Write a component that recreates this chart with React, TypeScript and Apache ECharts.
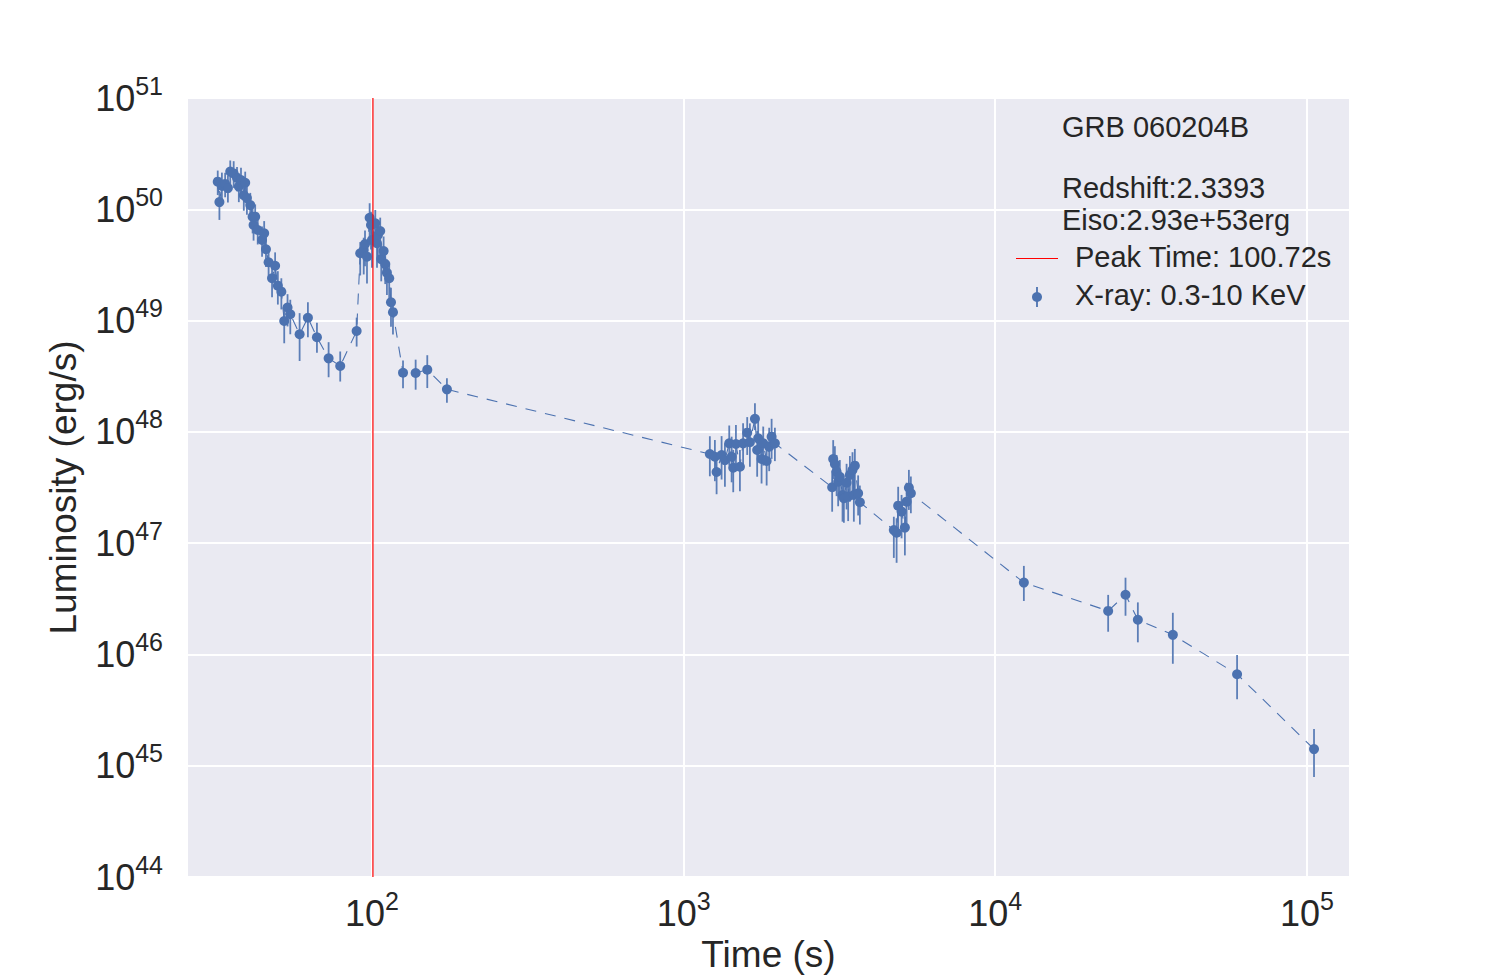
import React, { useEffect, useRef } from 'react';
import * as echarts from 'echarts';

// ---- Data ----
const times = [
  32.0, 32.4, 33.0, 33.8, 34.5, 35.1, 36.0, 36.9, 37.4, 38.0, 38.8, 39.2, 39.7, 40.7, 41.4, 41.7, 42.2, 43.0, 44.4, 45.1,
  45.7, 46.6, 47.8, 48.9, 49.9, 51.2, 52.3, 53.6, 54.7, 58.6, 62.3, 66.6, 72.6, 79.1, 89.3,
  91.7, 94.1, 95.0, 96.4, 98.3, 99.3, 100.0, 102.5, 103.8, 104.5, 106.3, 107.1, 109.0, 110.3, 111.7, 113.6, 115.1, 116.8,
  125.8, 138.1, 150.5, 174.0,
  1214, 1260, 1276, 1324, 1357, 1401, 1426, 1443, 1472, 1516, 1552, 1600, 1632, 1694, 1722, 1735, 1779, 1801, 1847, 1882, 1916, 1963,
  2997, 3020, 3058, 3097, 3133, 3172, 3236, 3268, 3334, 3373, 3416, 3483, 3518, 3544, 3631, 3678,
  4727, 4825, 4881, 5005, 5129, 5195, 5283, 5361,
  12354, 23030, 26180, 28680, 37140, 59700, 105400,
];
const lums = [
  1.77e50, 1.16e50, 1.62e50, 1.69e50, 1.55e50, 2.18e50, 2.10e50, 1.91e50, 1.60e50, 1.83e50, 1.34e50, 1.73e50, 1.26e50, 1.09e50, 8.58e49, 7.22e49, 8.58e49, 6.51e49, 5.30e49, 6.08e49,
  4.37e49, 3.34e49, 2.40e49, 3.11e49, 2.06e49, 1.82e49, 9.91e48, 1.31e49, 1.14e49, 7.53e48, 1.06e49, 7.08e48, 4.58e48, 3.91e48, 8.06e48,
  4.03e49, 4.31e49, 4.88e49, 3.75e49, 8.40e49, 7.22e49, 5.30e49, 7.48e49, 4.95e49, 5.87e49, 6.38e49, 3.57e49, 4.22e49, 3.22e49, 2.69e49, 2.40e49, 1.46e49, 1.19e49,
  3.40e48, 3.38e48, 3.62e48, 2.41e48,
  6.32e47, 5.98e47, 4.36e47, 6.19e47, 5.58e47, 7.89e47, 5.98e47, 4.76e47, 7.78e47, 4.86e47, 7.89e47, 9.83e47, 8.06e47, 1.31e48, 6.87e47, 8.75e47, 5.70e47, 7.89e47, 5.47e47, 7.36e47, 9.06e47, 7.89e47,
  3.18e47, 5.70e47, 5.14e47, 4.39e47, 3.56e47, 3.95e47, 2.71e47, 2.53e47, 3.49e47, 2.62e47, 4.10e47, 4.54e47, 2.71e47, 4.97e47, 2.81e47, 2.33e47,
  1.31e47, 1.24e47, 2.17e47, 1.92e47, 1.38e47, 2.36e47, 3.15e47, 2.81e47,
  4.42e46, 2.46e46, 3.44e46, 2.05e46, 1.50e46, 6.64e45, 1.41e45,
];
// error bar half-lengths, in dex (upper / lower)
const errUp = [
  0.10, 0.10, 0.12, 0.10, 0.11, 0.10, 0.11, 0.10, 0.12, 0.11, 0.12, 0.10, 0.12, 0.11, 0.12, 0.11, 0.11, 0.10, 0.12, 0.11,
  0.12, 0.12, 0.13, 0.12, 0.13, 0.12, 0.14, 0.12, 0.13, 0.19, 0.14, 0.13, 0.145, 0.13, 0.12,
  0.10, 0.11, 0.12, 0.11, 0.13, 0.12, 0.14, 0.12, 0.12, 0.13, 0.12, 0.14, 0.13, 0.13, 0.12, 0.14, 0.13, 0.12,
  0.11, 0.12, 0.13, 0.10,
  0.16, 0.15, 0.12, 0.17, 0.15, 0.16, 0.18, 0.16, 0.17, 0.15, 0.18, 0.14, 0.17, 0.14, 0.17, 0.16, 0.17, 0.15, 0.16, 0.17, 0.16, 0.14,
  0.15, 0.17, 0.16, 0.15, 0.16, 0.15, 0.16, 0.15, 0.17, 0.16, 0.17, 0.16, 0.18, 0.15, 0.16, 0.15,
  0.12, 0.13, 0.17, 0.15, 0.15, 0.17, 0.16, 0.15,
  0.15, 0.144, 0.153, 0.156, 0.198, 0.173, 0.18,
];
const errDn = [
  0.12, 0.16, 0.14, 0.12, 0.13, 0.12, 0.13, 0.12, 0.14, 0.13, 0.14, 0.12, 0.15, 0.13, 0.15, 0.14, 0.13, 0.13, 0.15, 0.14,
  0.16, 0.15, 0.17, 0.15, 0.17, 0.16, 0.20, 0.17, 0.18, 0.24, 0.175, 0.14, 0.17, 0.14, 0.14,
  0.20, 0.22, 0.20, 0.24, 0.18, 0.22, 0.25, 0.20, 0.22, 0.20, 0.24, 0.20, 0.20, 0.18, 0.20, 0.20, 0.22, 0.20,
  0.14, 0.15, 0.165, 0.12,
  0.20, 0.22, 0.20, 0.22, 0.24, 0.20, 0.23, 0.22, 0.20, 0.22, 0.24, 0.20, 0.22, 0.10, 0.24, 0.20, 0.22, 0.20, 0.22, 0.22, 0.20, 0.16,
  0.22, 0.18, 0.20, 0.22, 0.22, 0.20, 0.24, 0.22, 0.24, 0.22, 0.24, 0.20, 0.24, 0.22, 0.20, 0.20,
  0.25, 0.27, 0.22, 0.24, 0.25, 0.22, 0.20, 0.18,
  0.165, 0.187, 0.189, 0.203, 0.26, 0.225, 0.25,
];
const peakTime = 100.72;
const grbName = 'GRB 060204B';
const redshiftText = 'Redshift:2.3393';
const eisoText = 'Eiso:2.93e+53erg';
const peakLabel = 'Peak Time: 100.72s';
const xrayLabel = 'X-ray: 0.3-10 KeV';
const xLabel = 'Time (s)';
const yLabel = 'Luminosity (erg/s)';
const xMin = 25.5;
const xMax = 137500;
const yMin = 1e44;
const yMax = 1e51;

const FONT = '"Liberation Sans", Arial, Helvetica, sans-serif';
const BLUE = '#4c72b0';
const TXT = '#262626';

function powLabel(v: number) {
  const l = Math.log10(v);
  const e = Math.round(l);
  if (Math.abs(l - e) > 1e-6) return '';
  return `{b|10}{s|${e}}`;
}

const rich: any = {
  b: { fontSize: 36, lineHeight: 50, fontFamily: FONT, color: TXT },
  s: { fontSize: 25, lineHeight: 19, verticalAlign: 'top', fontFamily: FONT, color: TXT },
};

const legendText = (text: string, x: number, y: number) => ({
  type: 'text', x, y, z: 100,
  style: { text, fontSize: 29, fontFamily: FONT, fill: TXT, verticalAlign: 'middle' },
});

export default function App() {
  const ref = useRef<HTMLDivElement>(null);
  useEffect(() => {
    if (!ref.current) return;
    const chart = echarts.init(ref.current, undefined, { renderer: 'svg' });
    const points = times.map((t, i) => [t, lums[i]]);
    const bars = times.map((t, i) => [t, lums[i] * Math.pow(10, -errDn[i]), lums[i] * Math.pow(10, errUp[i])]);
    const option: any = {
      animation: false,
      backgroundColor: '#ffffff',
      textStyle: { fontFamily: FONT },
      grid: {
        left: 187, right: 150, top: 98, bottom: 98,
        outerBoundsMode: 'none', containLabel: false,
        show: true, backgroundColor: '#eaeaf2', borderWidth: 0,
      },
      xAxis: {
        type: 'log', logBase: 10, min: xMin, max: xMax, splitNumber: 4,
        axisLine: { show: false }, axisTick: { show: false },
        splitLine: { show: true, lineStyle: { color: '#ffffff', width: 2 } },
        axisLabel: { formatter: powLabel, rich, margin: 11, showMinLabel: false, showMaxLabel: false },
        name: xLabel, nameLocation: 'middle', nameGap: 59,
        nameTextStyle: { fontSize: 37, color: TXT, fontFamily: FONT },
      },
      yAxis: {
        type: 'log', logBase: 10, min: yMin, max: yMax, splitNumber: 7,
        axisLine: { show: false }, axisTick: { show: false },
        splitLine: { show: true, lineStyle: { color: '#ffffff', width: 2 } },
        axisLabel: { formatter: powLabel, rich, margin: 24 },
        name: yLabel, nameLocation: 'middle', nameGap: 105, nameRotate: 90,
        nameTextStyle: { fontSize: 37, color: TXT, fontFamily: FONT },
      },
      series: [
        {
          type: 'line', data: points, showSymbol: false, symbol: 'none', z: 2,
          lineStyle: { color: BLUE, width: 1.1, type: [11, 9] },
        },
        {
          type: 'custom', data: bars, z: 3,
          encode: { x: 0, y: [1, 2] },
          renderItem: (_p: any, api: any) => {
            const a = api.coord([api.value(0), api.value(1)]);
            const b = api.coord([api.value(0), api.value(2)]);
            return {
              type: 'line',
              shape: { x1: a[0], y1: a[1], x2: b[0], y2: b[1] },
              style: { stroke: BLUE, lineWidth: 1.8, opacity: 0.9 },
            };
          },
        },
        {
          type: 'scatter', data: points, symbol: 'circle', symbolSize: 10, z: 4,
          itemStyle: { color: BLUE, opacity: 1 },
        },
        {
          type: 'line', data: [[peakTime, yMin], [peakTime, yMax]], showSymbol: false, symbol: 'none', z: 6,
          lineStyle: { color: '#ff0000', width: 1.2 },
        },
      ],
      graphic: [
        legendText(grbName, 1062, 127),
        legendText(redshiftText, 1062, 188),
        legendText(eisoText, 1062, 220),
        { type: 'line', z: 100, shape: { x1: 1016, y1: 258.5, x2: 1058, y2: 258.5 }, style: { stroke: '#ff0000', lineWidth: 1.2 } },
        legendText(peakLabel, 1075, 257),
        { type: 'line', z: 100, shape: { x1: 1037, y1: 287, x2: 1037, y2: 307 }, style: { stroke: BLUE, lineWidth: 1.8 } },
        { type: 'circle', z: 100, shape: { cx: 1037, cy: 297, r: 5 }, style: { fill: BLUE } },
        legendText(xrayLabel, 1075, 295),
      ],
    };
    chart.setOption(option);
    return () => chart.dispose();
  }, []);
  return <div ref={ref} style={{ position: 'fixed', left: 0, top: 0, width: 1500, height: 975 }} />;
}
